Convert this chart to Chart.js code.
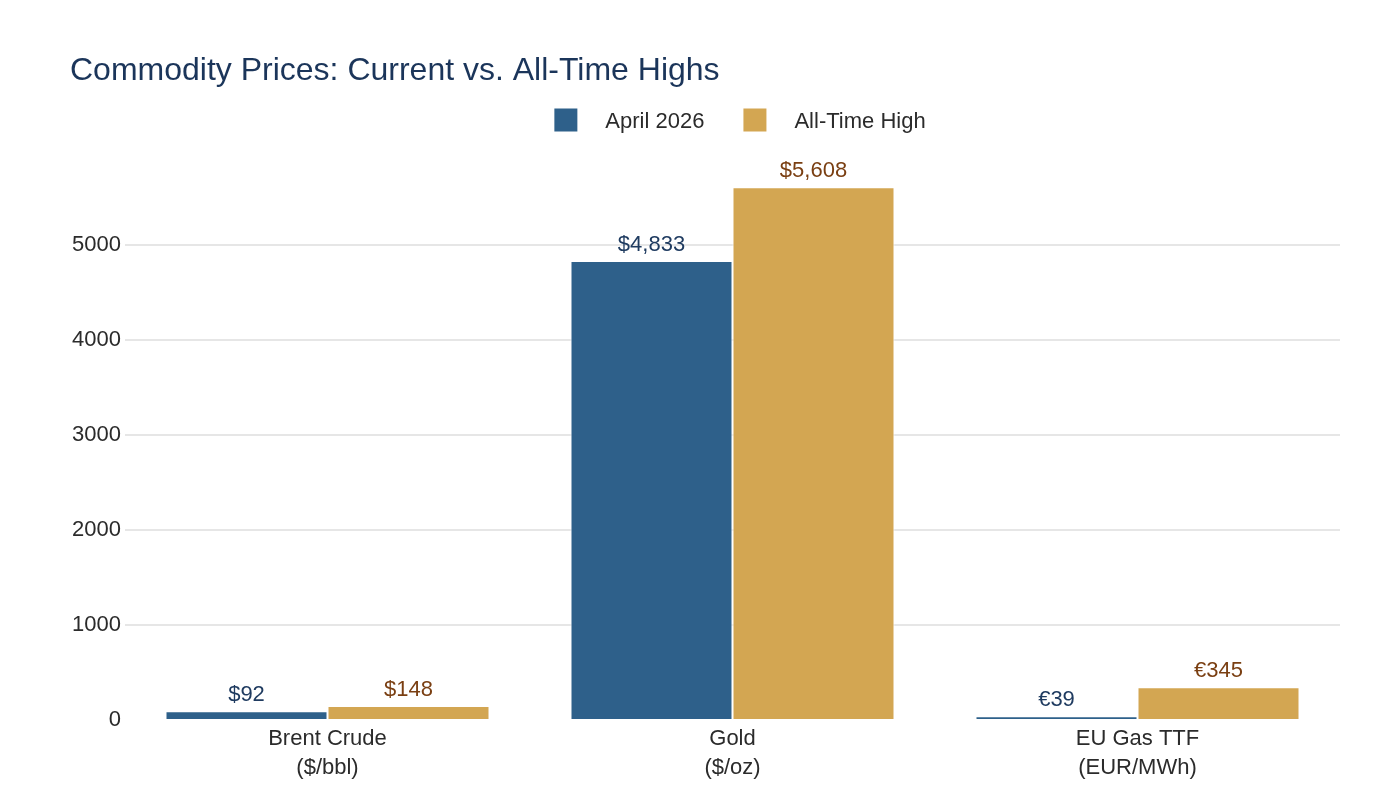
<!DOCTYPE html>
<html>
<head>
<meta charset="utf-8">
<script src="https://cdn.jsdelivr.net/npm/chart.js@4"></script>
<style>
  html, body { margin: 0; padding: 0; background: #fff; }
  #wrap { width: 1400px; height: 800px; }
</style>
</head>
<body>
<div id="wrap"><canvas id="priceChart" width="1400" height="800"></canvas></div>
<script>
const categories = [["Brent Crude", "($/bbl)"], ["Gold", "($/oz)"], ["EU Gas TTF", "(EUR/MWh)"]];
const currencySymbols = ["$", "$", "€"];
const currentPrices = [92, 4833, 39];
const allTimeHighs = [148, 5608, 345];
const seriesNames = ["April 2026", "All-Time High"];
const barColors = ["#2E608A", "#D3A652"];
const valueColors = ["#1F3B60", "#7A3F12"];
const yTicks = [0, 1000, 2000, 3000, 4000, 5000];

const fontFamily = '"Liberation Sans", Arial, sans-serif';

// value labels above every bar
const valueLabels = {
  id: "valueLabels",
  afterDatasetsDraw(chart) {
    const ctx = chart.ctx;
    ctx.save();
    ctx.font = `22px ${fontFamily}`;
    ctx.textAlign = "center";
    ctx.textBaseline = "middle";
    chart.data.datasets.forEach((ds, di) => {
      const meta = chart.getDatasetMeta(di);
      ctx.fillStyle = valueColors[di];
      meta.data.forEach((bar, i) => {
        const text = currencySymbols[i] + ds.data[i].toLocaleString("en-US");
        ctx.fillText(text, bar.x, bar.y - 16);
      });
    });
    ctx.restore();
  },
};

// legend row, plotly style (wider gap between swatch and text)
const legendRow = {
  id: "legendRow",
  afterDraw(chart) {
    const ctx = chart.ctx;
    ctx.save();
    ctx.font = `22px ${fontFamily}`;
    ctx.textBaseline = "middle";
    const box = 23, gap = 28, itemGap = 39;
    const widths = seriesNames.map((n) => box + gap + ctx.measureText(n).width);
    const total = widths.reduce((a, b) => a + b, 0) + itemGap * (widths.length - 1);
    let x = 740 - total / 2;
    const cy = 120;
    seriesNames.forEach((name, i) => {
      ctx.fillStyle = barColors[i];
      ctx.fillRect(x, cy - box / 2, box, box);
      ctx.fillStyle = "#2B2B2B";
      ctx.textAlign = "left";
      ctx.fillText(name, x + box + gap, cy + 1.5);
      x += widths[i] + itemGap;
    });
    ctx.restore();
  },
};

const ctx = document.getElementById("priceChart").getContext("2d");

new Chart(ctx, {
  type: "bar",
  data: {
    labels: categories,
    datasets: [
      {
        label: seriesNames[0],
        data: currentPrices,
        backgroundColor: barColors[0],
        borderColor: "#ffffff",
        borderWidth: 1,
      },
      {
        label: seriesNames[1],
        data: allTimeHighs,
        backgroundColor: barColors[1],
        borderColor: "#ffffff",
        borderWidth: 1,
      },
    ],
  },
  plugins: [valueLabels, legendRow],
  options: {
    responsive: false,
    animation: false,
    layout: {
      padding: { left: 70, right: 60, top: 0, bottom: 0 },
    },
    plugins: {
      legend: { display: false },
      tooltip: { enabled: false },
      title: {
        display: true,
        text: "Commodity Prices: Current vs. All-Time Highs",
        align: "start",
        color: "#1B355A",
        font: { family: fontFamily, size: 32, weight: "normal", lineHeight: 1.2 },
        padding: { top: 52, bottom: 69.6 },
      },
    },
    datasets: {
      bar: { categoryPercentage: 0.8, barPercentage: 1.0 },
    },
    scales: {
      x: {
        grid: { display: false, drawTicks: false },
        border: { display: false },
        ticks: {
          color: "#2B2B2B",
          padding: 4,
          font: { family: fontFamily, size: 22, lineHeight: 1.32 },
        },
        afterFit(scale) {
          scale.height = 80;
        },
      },
      y: {
        min: 0,
        max: 5895,
        border: { display: false },
        grid: {
          color: (c) => (c.tick && c.tick.value === 0 ? "rgba(0,0,0,0)" : "#E6E6E6"),
          lineWidth: 2,
          drawTicks: false,
        },
        ticks: {
          color: "#2B2B2B",
          padding: 4,
          font: { family: fontFamily, size: 22 },
          callback: (value) => String(value),
        },
        afterBuildTicks(scale) {
          scale.ticks = yTicks.map((v) => ({ value: v }));
        },
        afterFit(scale) {
          scale.width = 55;
        },
      },
    },
  },
});
</script>
</body>
</html>
